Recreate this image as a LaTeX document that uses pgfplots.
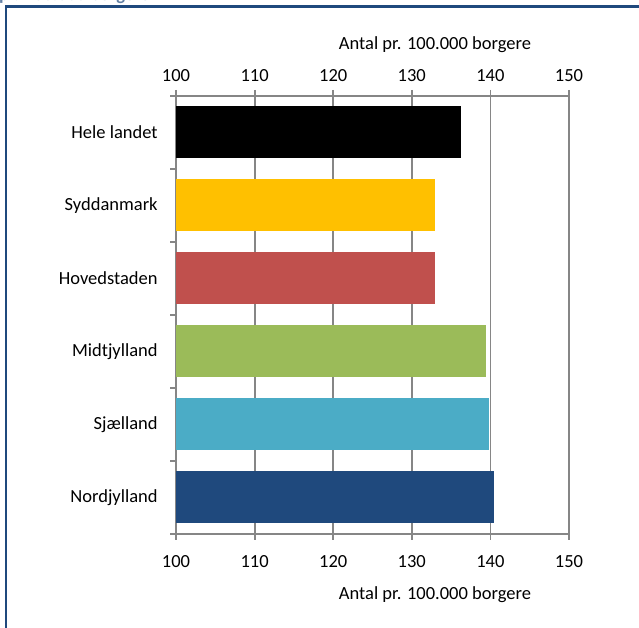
\documentclass[border=0pt]{standalone}
\usepackage{pgfplots}
\pgfplotsset{compat=1.18}
\usepackage{fontspec}
\setmainfont{Carlito}
\definecolor{frameblue}{RGB}{31,73,125}
\definecolor{gridgray}{RGB}{134,134,134}
\definecolor{cYellow}{RGB}{255,192,0}
\definecolor{cRed}{RGB}{192,80,77}
\definecolor{cGreen}{RGB}{155,187,89}
\definecolor{cCyan}{RGB}{75,172,198}
\definecolor{cNavy}{RGB}{31,73,125}
\begin{document}
\fontsize{18.5pt}{21pt}\selectfont
\begin{tikzpicture}[x=1pt,y=1pt]
\useasboundingbox (0,0) rectangle (639,628);
\node[anchor=base east, font=\bfseries, text=frameblue!70, inner sep=0pt] at (150,627.5) {pr. 100.000 borgere};
\draw[frameblue, line width=2.3pt] (6,-2) -- (6,621.5) -- (645,621.5);
\pgfplotsset{
  common/.style={
    at={(176pt,94pt)}, anchor=south west, scale only axis,
    width=393pt, height=438pt,
    xmin=100, xmax=150, ymin=-0.5, ymax=5.5,
    xtick={100,110,...,150},
    /pgf/number format/assume math mode=true,
    tick align=outside,
    major tick length=6pt, minor tick length=6pt,
    every tick/.style={gridgray, line width=1.8pt},
    axis line style={gridgray, line width=1.8pt, -},
    ticklabel style={font=\fontsize{18.5pt}{21pt}\selectfont},
    label style={font=\fontsize{18.5pt}{21pt}\selectfont},
  }
}
\begin{axis}[common,
  axis x line*=bottom, axis y line*=left,
  xtick pos=lower, ytick pos=left,
  xmajorgrids, major grid style={gridgray, line width=1.8pt},
  ytick={0,...,5},
  yticklabels={Nordjylland,Sjælland,Midtjylland,Hovedstaden,Syddanmark,Hele landet},
  major y tick style={draw=none},
  minor ytick={-0.5,0.5,...,5.5},
  yticklabel style={xshift=-6pt},
  xticklabel style={yshift=-9pt},
  xlabel={Antal pr. 100.000 borgere},
  xlabel style={at={(axis description cs:0.659,-0.1392)}, anchor=center},
  clip=true,
]
\addplot[xbar, bar shift=0pt, bar width=52pt, fill=black, draw=none] coordinates {(136.2,5)};
\addplot[xbar, bar shift=0pt, bar width=52pt, fill=cYellow, draw=none] coordinates {(132.9,4)};
\addplot[xbar, bar shift=0pt, bar width=52pt, fill=cRed, draw=none] coordinates {(133.0,3)};
\addplot[xbar, bar shift=0pt, bar width=52pt, fill=cGreen, draw=none] coordinates {(139.4,2)};
\addplot[xbar, bar shift=0pt, bar width=52pt, fill=cCyan, draw=none] coordinates {(139.8,1)};
\addplot[xbar, bar shift=0pt, bar width=52pt, fill=cNavy, draw=none] coordinates {(140.4,0)};
\end{axis}
\begin{axis}[common,
  axis x line*=top, axis y line=none,
  xtick pos=upper, xticklabel pos=upper,
  ytick=\empty,
  xticklabel style={yshift=2pt},
  xlabel={Antal pr. 100.000 borgere},
  xlabel style={at={(axis description cs:0.659,1.1164)}, anchor=center},
]
\end{axis}
\end{tikzpicture}
\end{document}
